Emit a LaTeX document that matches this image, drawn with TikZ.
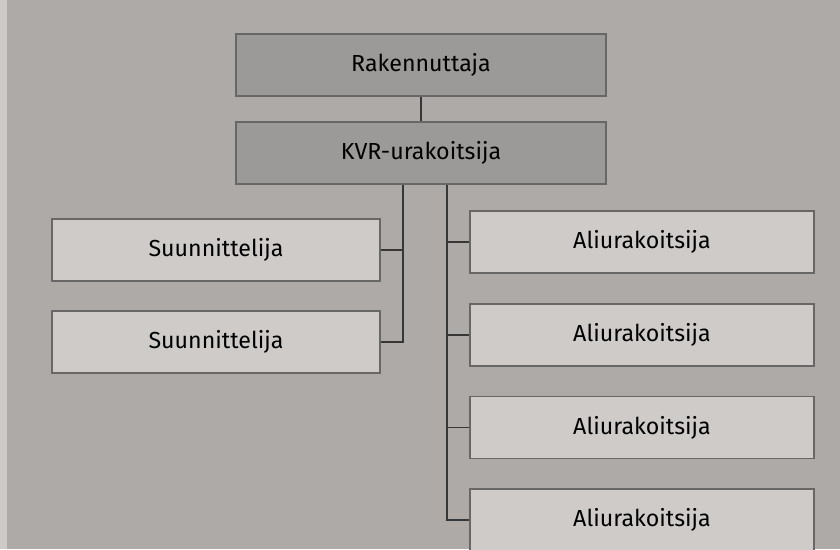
\documentclass[tikz,border=0pt]{standalone}
\usepackage{fontspec}
\setmainfont{Fira Sans}
\usepackage{tikz}
\usetikzlibrary{positioning}

\definecolor{paper}{RGB}{174,170,167}
\definecolor{paperedge}{RGB}{205,202,199}
\definecolor{boxfill}{RGB}{206,203,200}
\definecolor{topfill}{RGB}{156,154,152}
\definecolor{boxline}{RGB}{105,103,101}
\definecolor{rule}{RGB}{55,55,55}

\begin{document}
\begin{tikzpicture}[
	x=0.025cm, y=-0.025cm,
	orgbox/.style={
		rectangle,
		draw=boxline,
		fill=boxfill,
		line width=1.2pt,
		inner sep=0pt,
		minimum height=1.55cm,
		text=black,
		font=\fontsize{16.5}{20}\selectfont},
	topbox/.style={orgbox, fill=topfill, minimum width=9.25cm},
	planbox/.style={orgbox, minimum width=8.2cm},
	subbox/.style={orgbox, minimum width=8.6cm},
	myline/.style={draw=rule, line width=1.3pt}
	]
	% background
	\fill[paper] (0,0) rectangle (840,549);
	\fill[paperedge] (0,0) rectangle (7,549);
	\useasboundingbox (0,0) rectangle (840,549);

	\node[topbox] (rak) at (421,65) {Rakennuttaja};
	\node[topbox,below=0.6cm of rak] (kvr) {KVR-urakoitsija};

	\node[planbox] (s1) at (216,250) {Suunnittelija};
	\node[planbox,below=0.7cm of s1] (s2) {Suunnittelija};

	\node[subbox] (a1) at (642,242) {Aliurakoitsija};
	\node[subbox,below=0.725cm of a1] (a2) {Aliurakoitsija};
	\node[subbox,below=0.725cm of a2] (a3) {Aliurakoitsija};
	\node[subbox,below=0.725cm of a3] (a4) {Aliurakoitsija};

	% bus lines
	\coordinate (lbus) at (403,0);
	\coordinate (rbus) at (447,0);

	\draw[myline] (rak) -- (kvr);
	\draw[myline] (kvr.south -| lbus) |- (s2.east);
	\draw[myline] (s1.east) -- (s1.east -| lbus);
	\draw[myline] (kvr.south -| rbus) |- (a4.west);
	\foreach \i in {1,2,3}
		\draw[myline] (a\i.west) -- (a\i.west -| rbus);
\end{tikzpicture}
\end{document}
